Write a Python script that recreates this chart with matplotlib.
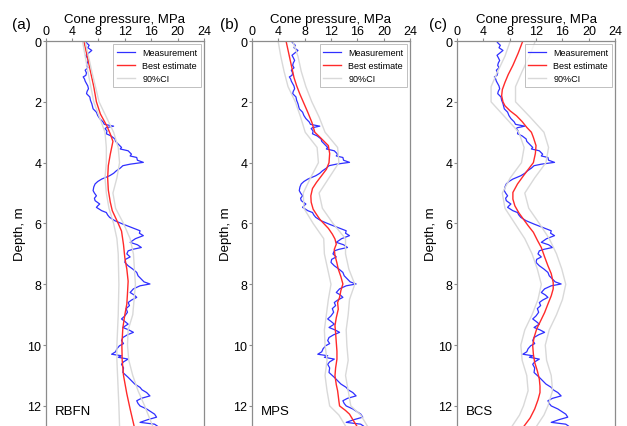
import matplotlib
matplotlib.use('Agg')
import matplotlib.pyplot as plt

plt.rcParams['font.family'] = ['Liberation Sans', 'DejaVu Sans']

# measured CPT profile (same in every panel): depth [m], cone pressure [MPa]
meas_depth = [0.00, 0.08, 0.14, 0.22, 0.31, 0.40, 0.47, 0.55, 0.64, 0.72, 0.80, 0.88, 0.96, 1.05,
              1.13, 1.18, 1.25, 1.32, 1.40, 1.48, 1.57, 1.65, 1.73, 1.84, 1.95, 2.06, 2.15, 2.23,
              2.34, 2.45, 2.55, 2.66, 2.74, 2.80, 2.85, 2.88, 2.96, 3.05, 3.12, 3.22, 3.30, 3.39,
              3.50, 3.55, 3.61, 3.72, 3.78, 3.83, 3.92, 3.99, 4.05, 4.10, 4.18, 4.27, 4.35, 4.43,
              4.54, 4.62, 4.70, 4.80, 4.92, 5.00, 5.09, 5.17, 5.25, 5.36, 5.42, 5.47, 5.58, 5.64,
              5.72, 5.80, 5.91, 6.02, 6.13, 6.24, 6.32, 6.40, 6.50, 6.62, 6.70, 6.79, 6.85, 6.90,
              7.00, 7.10, 7.18, 7.28, 7.39, 7.50, 7.61, 7.72, 7.83, 7.92, 7.99, 8.05, 8.15, 8.27,
              8.35, 8.43, 8.52, 8.60, 8.70, 8.80, 8.92, 9.04, 9.14, 9.22, 9.31, 9.42, 9.50, 9.58,
              9.66, 9.75, 9.85, 9.95, 10.02, 10.12, 10.22, 10.30, 10.35, 10.40, 10.46, 10.55,
              10.63, 10.75, 10.90, 10.98, 11.06, 11.17, 11.28, 11.39, 11.47, 11.56, 11.67, 11.75,
              11.83, 11.92, 12.00, 12.10, 12.20, 12.27, 12.37, 12.45, 12.54, 12.60, 12.66]
meas_qc = [6.0, 6.3, 6.6, 6.4, 7.0, 6.5, 6.1, 6.3, 6.5, 6.3, 6.2, 6.4, 6.0, 6.2,
           6.1, 5.7, 5.9, 6.0, 6.2, 6.4, 6.5, 6.3, 6.2, 6.7, 6.8, 7.0, 7.1, 7.2,
           7.7, 7.9, 8.2, 8.7, 8.9, 10.3, 9.2, 9.0, 9.3, 9.2, 9.9, 10.5, 10.6, 11.0,
           11.5, 11.3, 12.5, 13.0, 12.8, 13.8, 13.9, 14.8, 12.8, 11.7, 11.3, 10.7, 10.3, 9.7,
           8.5, 7.9, 7.5, 7.3, 7.2, 7.4, 7.7, 7.4, 7.5, 8.2, 7.9, 7.7, 8.5, 9.2,
           9.4, 9.7, 10.5, 11.7, 13.0, 14.3, 14.2, 14.8, 13.6, 12.8, 13.9, 14.5, 13.2, 12.5,
           12.3, 12.8, 12.1, 12.0, 12.5, 13.2, 13.8, 14.0, 14.5, 14.9, 15.8, 14.3, 13.3, 12.8,
           13.4, 13.8, 13.0, 12.5, 12.7, 12.2, 12.4, 12.0, 11.5, 12.0, 12.5, 11.7, 12.6, 13.3,
           12.4, 11.7, 11.5, 11.8, 11.2, 10.8, 10.6, 10.0, 11.5, 11.0, 12.5, 11.8,
           11.5, 11.8, 11.7, 12.1, 12.5, 13.0, 13.5, 14.3, 14.6, 15.3, 15.8, 14.5,
           13.8, 14.0, 14.3, 15.3, 16.0, 16.5, 16.8, 15.5, 14.3, 16.5, 16.9]

# (a) RBFN
rbfn_depth = [0, 0.5, 1.0, 1.5, 2.0, 2.4, 2.8, 3.06, 3.3, 3.72, 4.1, 4.5, 4.9, 5.3, 5.58, 6.0,
              6.25, 6.7, 7.13, 7.5, 7.9, 8.3, 8.65, 9.0, 9.43, 10.0, 10.5, 11.0, 11.6, 12.1, 12.66]
rbfn_best = [5.8, 6.3, 6.8, 7.3, 7.7, 8.3, 9.3, 9.8, 10.2, 9.8, 9.5, 9.4, 9.5, 9.8, 10.1, 11.0,
             11.5, 11.8, 12.0, 12.3, 12.5, 12.4, 12.3, 12.0, 11.7, 11.55, 11.6, 11.8, 12.3, 12.8, 13.4]
rbfn_ci_depth = [0, 1, 2, 3, 3.5, 4, 4.5, 5, 5.5, 6, 6.5, 7, 8, 9, 9.5, 10, 10.5, 11, 11.5, 12, 12.66]
rbfn_lo = [5.6, 6.4, 7.3, 9.0, 9.2, 9.2, 9.0, 9.2, 9.6, 10.3, 10.8, 11.0, 11.1, 11.0, 10.9, 10.8,
           10.8, 10.9, 11.0, 11.1, 11.2]
rbfn_hi = [6.0, 7.0, 8.1, 10.3, 11.0, 11.2, 10.8, 10.2, 10.6, 11.8, 12.8, 13.3, 13.6, 13.2, 12.5,
           12.4, 12.6, 13.2, 14.0, 15.0, 16.2]

# (b) MPS
mps_depth = [0, 0.4, 0.8, 1.2, 1.47, 1.75, 2.0, 2.35, 2.67, 3.0, 3.2, 3.44, 3.7, 4.0, 4.22, 4.45,
             4.65, 4.85, 5.09, 5.3, 5.53, 5.7, 5.86, 6.0, 6.16, 6.35, 6.51, 6.68, 6.85, 7.05, 7.3,
             7.5, 7.75, 7.99, 8.2, 8.43, 8.6, 8.82, 9.1, 9.36, 9.6, 9.91, 10.2, 10.46, 10.75,
             11.01, 11.3, 11.5, 11.67, 11.85, 12.0, 12.15, 12.27, 12.45, 12.66]
mps_best = [5.2, 5.6, 6.0, 6.4, 6.8, 7.3, 7.8, 8.5, 9.1, 9.55, 10.5, 11.6, 11.8, 11.7, 11.3, 10.5,
            9.8, 9.2, 8.95, 9.0, 9.3, 9.8, 10.3, 10.9, 11.6, 12.2, 12.6, 12.8, 12.5, 12.6, 12.9,
            13.1, 13.5, 13.8, 13.5, 13.3, 13.0, 13.1, 12.8, 12.6, 12.7, 12.8, 12.9, 12.9, 12.7,
            12.6, 12.8, 13.0, 13.1, 13.2, 13.3, 14.2, 14.8, 15.3, 15.9]
ci_depth = [0, 0.5, 1, 1.5, 2, 2.5, 3, 3.5, 4, 4.5, 5, 5.5, 6, 6.5, 7, 7.5, 8, 8.5, 9, 9.5, 10,
            10.5, 11, 11.5, 12, 12.3, 12.66]
mps_lo = [4.0, 4.4, 4.9, 5.5, 6.6, 7.4, 8.1, 9.9, 10.1, 8.9, 7.8, 7.9, 9.3, 10.9, 11.0, 11.5, 12.0,
          11.6, 11.3, 11.0, 11.1, 11.4, 11.1, 11.4, 11.8, 13.2, 14.2]
mps_hi = [6.2, 7.0, 7.5, 8.2, 9.1, 10.2, 11.1, 13.0, 13.2, 11.7, 10.2, 10.7, 12.3, 14.2, 14.2, 14.7,
          15.6, 14.8, 14.6, 14.3, 14.4, 14.6, 14.2, 14.6, 15.0, 16.5, 17.5]

# (c) BCS
bcs_depth = [0, 0.4, 0.8, 1.1, 1.36, 1.6, 1.8, 2.0, 2.13, 2.3, 2.46, 2.65, 2.84, 3.0, 3.17, 3.44,
             3.7, 4.0, 4.2, 4.43, 4.7, 4.98, 5.2, 5.42, 5.65, 5.86, 6.07, 6.29, 6.55, 6.79, 7.1,
             7.39, 7.65, 7.94, 8.15, 8.38, 8.65, 8.93, 9.2, 9.47, 9.75, 10.02, 10.3, 10.57, 10.85,
             11.12, 11.35, 11.56, 11.8, 12.1, 12.4, 12.66]
bcs_best = [10.0, 9.3, 8.5, 7.8, 7.3, 6.9, 6.8, 7.0, 7.3, 8.1, 9.05, 9.9, 10.6, 11.3, 11.6, 12.0,
            11.9, 11.6, 10.9, 10.1, 9.2, 8.5, 8.5, 8.8, 9.4, 10.1, 10.8, 11.6, 12.2, 12.8, 13.3,
            13.8, 14.3, 14.6, 14.6, 14.3, 13.8, 13.3, 12.7, 12.1, 11.7, 11.5, 11.6, 11.8, 12.2,
            12.5, 12.6, 12.6, 12.3, 11.8, 11.1, 10.2]
bcs_lo = [8.1, 7.3, 6.2, 5.2, 5.2, 7.3, 9.4, 10.2, 9.8, 8.1, 6.9, 7.3, 8.8, 10.3, 11.4, 12.2, 12.8,
          12.3, 11.4, 10.3, 9.7, 9.9, 10.6, 10.8, 10.1, 9.5, 8.4]
bcs_hi = [11.9, 11.0, 9.9, 8.9, 8.9, 11.1, 13.2, 13.9, 13.5, 11.8, 10.3, 10.9, 12.5, 14.0, 15.1,
          15.9, 16.5, 16.0, 15.1, 14.0, 13.4, 13.6, 14.3, 14.5, 13.8, 13.2, 12.1]

panels = [
    ('(a)', 'RBFN', rbfn_depth, rbfn_best, rbfn_ci_depth, rbfn_lo, rbfn_hi, 0.0726, 0.034),
    ('(b)', 'MPS', mps_depth, mps_best, ci_depth, mps_lo, mps_hi, 0.4014, 0.366),
    ('(c)', 'BCS', bcs_depth, bcs_best, ci_depth, bcs_lo, bcs_hi, 0.7284, 0.699),
]

fig = plt.figure(figsize=(6.27, 4.27), dpi=100)
axis_gray = '#8c8c8c'
for tag, name, bd, best, cd, lo, hi, left, tag_x in panels:
    ax = fig.add_axes([left, 0.0, 0.2530, 0.9016])
    ax.plot(meas_qc, meas_depth, color='#3030ff', lw=0.9, label='Measurement')
    ax.plot(best, bd, color='#ff2a2a', lw=1.0, label='Best estimate')
    ax.plot(lo, cd, color='#d9d9d9', lw=1.0, label='90%CI')
    ax.plot(hi, cd, color='#d9d9d9', lw=1.0)
    ax.set_xlim(0, 24)
    ax.set_ylim(12.66, 0)
    ax.set_xticks(range(0, 25, 4))
    ax.set_yticks(range(0, 13, 2))
    ax.xaxis.tick_top()
    ax.xaxis.set_label_position('top')
    ax.set_xlabel('Cone pressure, MPa', fontsize=9.5, labelpad=2)
    ax.set_ylabel('Depth, m', fontsize=9.5, labelpad=1)
    ax.tick_params(labelsize=9, length=2, width=0.8, color=axis_gray, pad=1)
    for sp in ax.spines.values():
        sp.set_color(axis_gray)
        sp.set_linewidth(0.9)
    ax.spines['bottom'].set_visible(False)
    leg = ax.legend(loc='upper right', fontsize=6.5, borderaxespad=0.35, handlelength=2.0,
                    labelspacing=0.45, fancybox=False)
    leg.get_frame().set_edgecolor('#b0b0b0')
    leg.get_frame().set_linewidth(0.7)
    ax.text(0.06, 0.04, name, transform=ax.transAxes, fontsize=9.5, va='center', ha='left')
    fig.text(tag_x, 0.942, tag, fontsize=11, ha='center', va='center')

fig.savefig('out.png', dpi=100, facecolor='white')
